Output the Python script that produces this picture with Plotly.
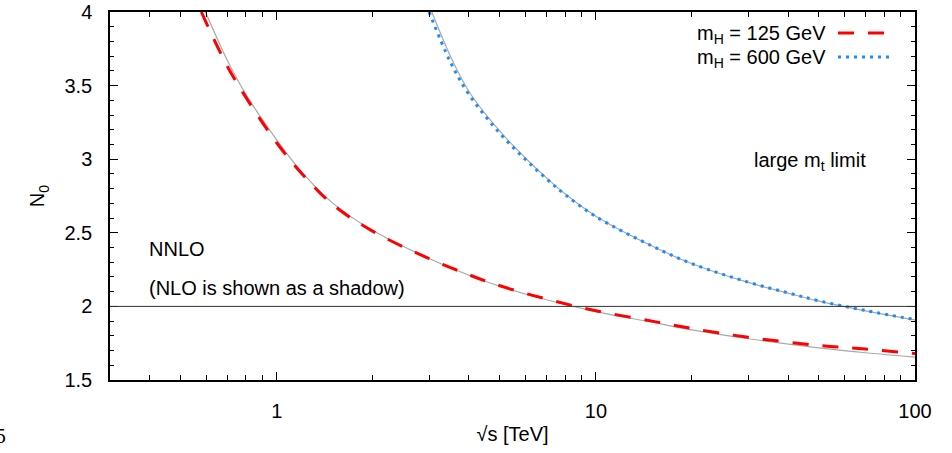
import plotly.graph_objects as go

# sqrt(s) grid in TeV and N0 values (NNLO, with the NLO result as a thin shadow)
sqrt_s_125 = [0.58, 0.6, 0.7, 0.8, 1.0, 1.2, 1.5, 2.0, 3.0, 4.0, 5.0, 7.0, 10.0, 15.0, 20.0, 30.0, 50.0, 70.0, 100.0]
n0_nnlo_125 = [4.00, 3.93, 3.63, 3.42, 3.11, 2.90, 2.69, 2.51, 2.325, 2.215, 2.14, 2.05, 1.97, 1.90, 1.85, 1.79, 1.735, 1.71, 1.68]

sqrt_s_125_nlo = [0.597, 0.6, 0.7, 0.8, 1.0, 1.2, 1.5, 2.0, 3.0, 4.0, 5.0, 7.0, 10.0, 15.0, 20.0, 30.0, 50.0, 70.0, 100.0]
n0_nlo_125 = [4.00, 3.99, 3.67, 3.44, 3.13, 2.91, 2.70, 2.515, 2.325, 2.212, 2.137, 2.045, 1.965, 1.893, 1.84, 1.78, 1.718, 1.685, 1.655]

sqrt_s_600 = [3.0, 3.5, 4.0, 5.0, 6.0, 7.0, 8.0, 10.0, 15.0, 20.0, 30.0, 40.0, 50.0, 70.0, 100.0]
n0_nnlo_600 = [4.00, 3.66, 3.44, 3.175, 3.00, 2.867, 2.76, 2.61, 2.41, 2.29, 2.165, 2.092, 2.038, 1.972, 1.91]

sqrt_s_600_nlo = [3.06, 3.5, 4.0, 5.0, 6.0, 7.0, 8.0, 10.0, 15.0, 20.0, 30.0, 40.0, 50.0, 70.0, 100.0]
n0_nlo_600 = [4.00, 3.70, 3.46, 3.19, 3.01, 2.873, 2.765, 2.613, 2.41, 2.29, 2.163, 2.09, 2.036, 1.97, 1.908]

legend_labels = ["m<sub>H</sub> = 125 GeV", "m<sub>H</sub> = 600 GeV"]
reference_level = 2.0

# axis tick positions
x_major = [1, 10, 100]
x_minor = [0.3, 0.4, 0.5, 0.6, 0.7, 0.8, 0.9,
           2, 3, 4, 5, 6, 7, 8, 9,
           20, 30, 40, 50, 60, 70, 80, 90]
y_major = [1.5, 2.0, 2.5, 3.0, 3.5, 4.0]
y_minor = [1.6, 1.7, 1.8, 1.9, 2.1, 2.2, 2.3, 2.4, 2.6, 2.7, 2.8, 2.9,
           3.1, 3.2, 3.3, 3.4, 3.6, 3.7, 3.8, 3.9]

FONT = "Liberation Sans"
RED = "#ff0000"
BLUE = "#1a8cff"
SHADOW = "#a8a8a8"

fig = go.Figure()

# NLO shadows
fig.add_trace(go.Scatter(x=sqrt_s_125_nlo, y=n0_nlo_125, mode="lines",
                         line=dict(color=SHADOW, width=1.2, shape="spline"),
                         showlegend=False, hoverinfo="skip"))
fig.add_trace(go.Scatter(x=sqrt_s_600_nlo, y=n0_nlo_600, mode="lines",
                         line=dict(color=SHADOW, width=1.2, shape="spline"),
                         showlegend=False, hoverinfo="skip"))

# NNLO curves
fig.add_trace(go.Scatter(x=sqrt_s_125, y=n0_nnlo_125, mode="lines",
                         line=dict(color=RED, width=3, dash="16px,14px", shape="spline"),
                         name=legend_labels[0], showlegend=False))
fig.add_trace(go.Scatter(x=sqrt_s_600, y=n0_nnlo_600, mode="lines",
                         line=dict(color=BLUE, width=3, dash="3px,5px", shape="spline"),
                         name=legend_labels[1], showlegend=False))

# horizontal reference line at N0 = 2
fig.add_shape(type="line", xref="paper", x0=0, x1=1, yref="y",
              y0=reference_level, y1=reference_level,
              line=dict(color="#333333", width=1))

W, H = 952, 453
L, R, T, B = 110, 37, 12, 73
pw, ph = W - L - R, H - T - B


def px(x):
    return (x - L) / pw


def py(y):
    return 1 - (y - T) / ph


# legend drawn as text followed by its line sample
for i, (lab, col, dash) in enumerate([(legend_labels[0], RED, "16px,14px"),
                                      (legend_labels[1], BLUE, "3px,5px")]):
    yy = 33 + 24 * i
    fig.add_annotation(text=lab, xref="paper", yref="paper", x=px(828), y=py(yy + 1),
                       xanchor="right", yanchor="middle", showarrow=False,
                       font=dict(family=FONT, size=20, color="black"))
    fig.add_shape(type="line", xref="paper", yref="paper",
                  x0=px(838), x1=px(890), y0=py(yy), y1=py(yy),
                  line=dict(color=col, width=3, dash=dash))

fig.add_annotation(text="NNLO", xref="paper", yref="paper", x=px(147), y=py(249),
                   xanchor="left", yanchor="middle", showarrow=False,
                   font=dict(family=FONT, size=20, color="black"))
fig.add_annotation(text="(NLO is shown as a shadow)", xref="paper", yref="paper",
                   x=px(147), y=py(288), xanchor="left", yanchor="middle", showarrow=False,
                   font=dict(family=FONT, size=20, color="black"))
fig.add_annotation(text="large m<sub>t</sub> limit", xref="paper", yref="paper",
                   x=px(752), y=py(161), xanchor="left", yanchor="middle", showarrow=False,
                   font=dict(family=FONT, size=20, color="black"))
fig.add_annotation(text="5", xref="paper", yref="paper", x=px(0), y=py(436),
                   xanchor="center", yanchor="middle", showarrow=False,
                   font=dict(family="DejaVu Serif", size=18, color="black"))

axis_common = dict(showline=True, linecolor="black", linewidth=1.5, mirror="allticks",
                   ticks="inside", tickcolor="black", tickwidth=1, ticklen=8,
                   showgrid=False, zeroline=False, ticklabelstandoff=12,
                   tickfont=dict(family=FONT, size=20, color="black"))

fig.update_xaxes(type="log", range=[-0.5229, 2.0], tickmode="array",
                 tickvals=x_major, ticktext=[str(v) for v in x_major],
                 minor=dict(ticks="inside", ticklen=5, tickwidth=1, tickcolor="black",
                            tickmode="array", tickvals=x_minor, showgrid=False),
                 title=dict(text="√s [TeV]", font=dict(family=FONT, size=20, color="black"), standoff=6),
                 **axis_common)
fig.update_yaxes(range=[1.5, 4.0], tickmode="array",
                 tickvals=y_major, ticktext=[f"{v:g}" for v in y_major],
                 minor=dict(ticks="inside", ticklen=4, tickwidth=1, tickcolor="black",
                            tickmode="array", tickvals=y_minor, showgrid=False),
                 title=dict(text="N<sub>0</sub>", font=dict(family=FONT, size=20, color="black"), standoff=14),
                 **axis_common)

fig.update_layout(width=W, height=H, margin=dict(l=L, r=R, t=T, b=B, autoexpand=False),
                  paper_bgcolor="white", plot_bgcolor="white", showlegend=False,
                  font=dict(family=FONT, size=20, color="black"))

fig.write_html("out.html")
